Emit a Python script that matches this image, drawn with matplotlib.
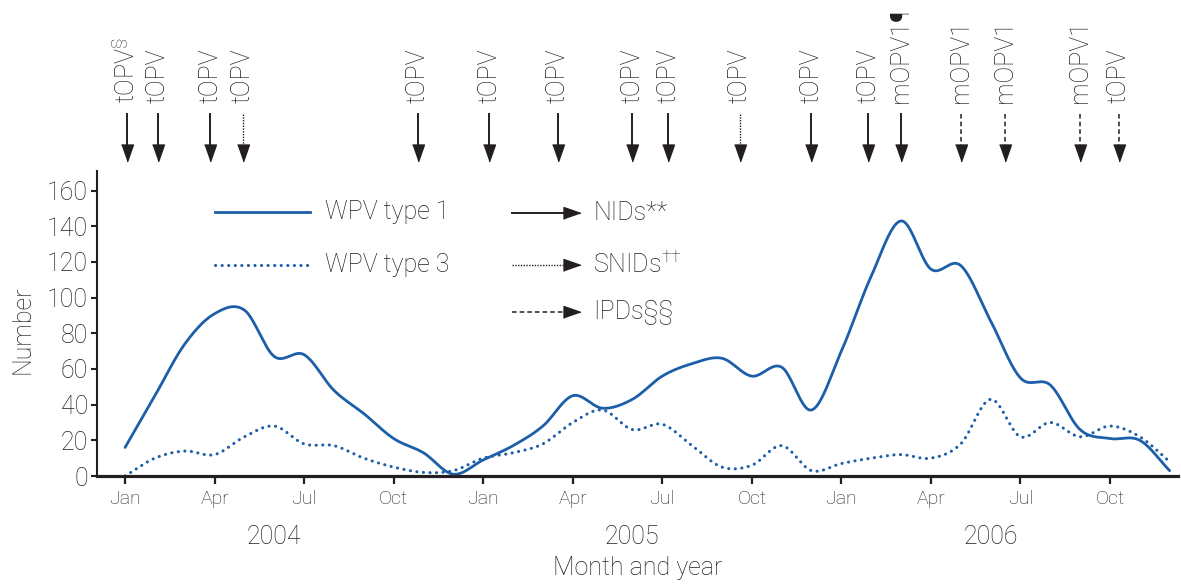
import numpy as np
import matplotlib
matplotlib.use("Agg")
import matplotlib.pyplot as plt
from matplotlib.transforms import blended_transform_factory

plt.rcParams['font.family'] = ['Roboto', 'DejaVu Sans']
plt.rcParams['font.weight'] = 'light'
plt.rcParams['mathtext.fontset'] = 'custom'
plt.rcParams['mathtext.rm'] = 'Roboto:light'

# monthly case counts, Jan 2004 .. Dec 2006
months = np.arange(36)
wpv1 = [16, 45, 74, 91, 93, 67, 68, 48, 35, 21, 13, 1,
        9, 17, 28, 45, 38, 43, 56, 63, 66, 56, 61, 37,
        70, 112, 143, 116, 118, 87, 55, 51, 26, 21, 20, 3]
wpv3 = [0, 10, 14, 12, 22, 28, 18, 17, 10, 5, 2, 3,
        10, 13, 18, 30, 37, 26, 29, 17, 5, 6, 17, 3,
        7, 10, 12, 10, 18, 43, 22, 30, 22, 28, 22, 8]

# vaccination campaigns (month position, vaccine, campaign type)
camp_month = [0.05, 1.1, 2.85, 3.95, 9.8, 12.2, 14.5, 17.0, 18.2,
              20.6, 23.0, 24.9, 26.0, 28.0, 29.5, 32.0, 33.3]
camp_vaccine = ['tOPV$^{§}$', 'tOPV', 'tOPV', 'tOPV', 'tOPV', 'tOPV', 'tOPV',
                'tOPV', 'tOPV', 'tOPV', 'tOPV', 'tOPV', 'mOPV1¶',
                'mOPV1', 'mOPV1', 'mOPV1', 'tOPV']
camp_type = ['NID', 'NID', 'NID', 'SNID', 'NID', 'NID', 'NID', 'NID', 'NID',
             'SNID', 'NID', 'NID', 'NID', 'IPD', 'IPD', 'IPD', 'IPD']

month_labels = ['Jan', 'Apr', 'Jul', 'Oct']
years = ['2004', '2005', '2006']

BLUE = '#1c5ea8'
INK = '#231f20'
DOTS = (0, (0.05, 2.1))
styles = {'NID': ('-', 1.4), 'SNID': ((0, (1, 1)), 1.0), 'IPD': ((0, (3, 2)), 1.1)}
HEAD = [(-0.35, 0.5), (0.35, 0.5), (0, -0.5)]


def smooth(x, y, n=24):
    # Catmull-Rom curve through the points
    x = np.asarray(x, float)
    y = np.asarray(y, float)
    px = np.concatenate([[2 * x[0] - x[1]], x, [2 * x[-1] - x[-2]]])
    py = np.concatenate([[2 * y[0] - y[1]], y, [2 * y[-1] - y[-2]]])
    t = np.linspace(0, 1, n, endpoint=False)
    xs, ys = [], []
    for i in range(1, len(px) - 2):
        for p, out in ((px, xs), (py, ys)):
            p0, p1, p2, p3 = p[i - 1], p[i], p[i + 1], p[i + 2]
            out.append(0.5 * (2 * p1 + (-p0 + p2) * t
                              + (2 * p0 - 5 * p1 + 4 * p2 - p3) * t ** 2
                              + (-p0 + 3 * p1 - 3 * p2 + p3) * t ** 3))
    xs.append([x[-1]])
    ys.append([y[-1]])
    return np.concatenate(xs), np.concatenate(ys)


fig = plt.figure(figsize=(11.81, 5.85), dpi=100)
ax = fig.add_axes([97 / 1181, 1 - 476 / 585, 1081 / 1181, 305 / 585])

x1, y1 = smooth(months, wpv1)
x3, y3 = smooth(months, wpv3)
ax.plot(x1, y1, color=BLUE, lw=2.0, solid_capstyle='round')
ax.plot(x3, y3, color=BLUE, lw=2.2, linestyle=DOTS, dash_capstyle='round')

ax.set_xlim(-0.94, 35.28)
ax.set_ylim(0, 171)
ax.set_yticks(range(0, 161, 20))
ax.set_xticks(range(0, 36, 3))
ax.set_xticklabels(month_labels * 3)

for s in ('top', 'right'):
    ax.spines[s].set_visible(False)
ax.spines['left'].set_linewidth(1.5)
ax.spines['bottom'].set_linewidth(2.3)
ax.spines['left'].set_color(INK)
ax.spines['bottom'].set_color(INK)
ax.tick_params(axis='y', length=4.5, width=1.5, pad=2, labelsize=18, colors=INK)
ax.tick_params(axis='x', length=6, width=1.6, pad=4, labelsize=14, colors=INK)

xdata_yaxes = blended_transform_factory(ax.transData, ax.transAxes)
xdata_yfig = blended_transform_factory(ax.transData, fig.transFigure)

for i, yr in enumerate(years):
    ax.text(12 * i + 5, (476 - 537) / 305, yr, transform=xdata_yaxes,
            ha='center', va='center', fontsize=18, color=INK)
ax.text(0.5, (476 - 568) / 305, 'Month and year', transform=ax.transAxes,
        ha='center', va='center', fontsize=18, color=INK)
ax.text(-0.069, 0.479, 'Number', transform=ax.transAxes, rotation=90,
        ha='center', va='center', fontsize=18, color=INK)

# campaign arrows above the plot
y_top, y_base, y_tip, y_txt = [1 - v / 585 for v in (114, 145, 161, 103)]
for m, lab, kind in zip(camp_month, camp_vaccine, camp_type):
    ls, lw = styles[kind]
    ax.plot([m, m], [y_top, y_base], transform=xdata_yfig, clip_on=False,
            color=INK, lw=lw, linestyle=ls)
    ax.plot([m], [(y_base + y_tip) / 2], transform=xdata_yfig, clip_on=False,
            marker=HEAD, markersize=12.2, color=INK, linestyle='none')
    ax.text(m, y_txt, lab, transform=xdata_yfig, rotation=90, ha='center',
            va='bottom', fontsize=18, color=INK)

# legend for the series
ax.plot([0.109, 0.197], [0.866, 0.866], transform=ax.transAxes, color=BLUE, lw=2.0)
ax.plot([0.109, 0.197], [0.692, 0.692], transform=ax.transAxes, color=BLUE, lw=2.2,
        linestyle=DOTS, dash_capstyle='round')
ax.text(0.211, 0.866, 'WPV type 1', transform=ax.transAxes, va='center',
        fontsize=18, color=INK)
ax.text(0.211, 0.692, 'WPV type 3', transform=ax.transAxes, va='center',
        fontsize=18, color=INK)

# legend for the campaign types
head_right = [(-v[1], v[0]) for v in HEAD]
legend_rows = [('NID', 0.862, 'NIDs**'), ('SNID', 0.692, 'SNIDs$^{††}$'),
               ('IPD', 0.538, 'IPDs§§')]
for kind, yy, lab in legend_rows:
    ls, lw = styles[kind]
    ax.plot([0.384, 0.432], [yy, yy], transform=ax.transAxes, color=INK, lw=lw,
            linestyle=ls)
    ax.plot([0.4395], [yy], transform=ax.transAxes, marker=head_right,
            markersize=12.2, color=INK, linestyle='none')
    ax.text(0.459, yy, lab, transform=ax.transAxes, va='center', fontsize=18,
            color=INK)

fig.savefig('out.png', dpi=100)
